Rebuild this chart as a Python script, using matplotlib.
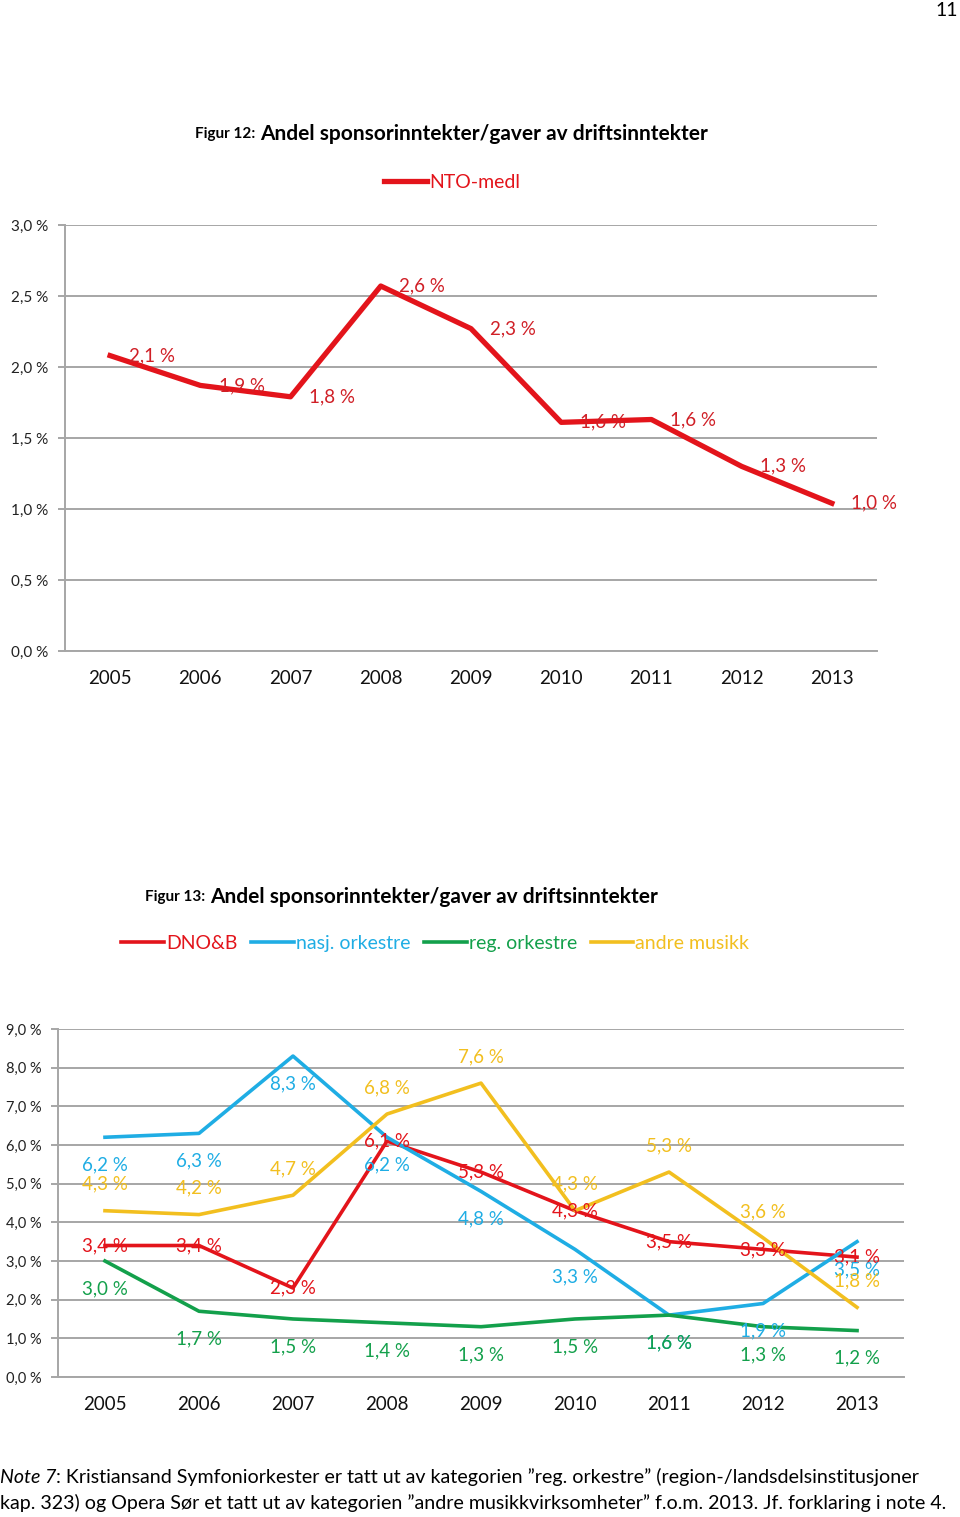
import matplotlib.pyplot as plt
from matplotlib.ticker import FixedLocator

plt.rcParams['font.family'] = ['Lato', 'DejaVu Sans']

years = ['2005', '2006', '2007', '2008', '2009', '2010', '2011', '2012', '2013']

# Figur 12
nto_medl = [2.08, 1.87, 1.79, 2.57, 2.27, 1.61, 1.63, 1.30, 1.04]

# Figur 13
dno_b = [3.4, 3.4, 2.3, 6.1, 5.3, 4.3, 3.5, 3.3, 3.1]
nasj_ork = [6.2, 6.3, 8.3, 6.2, 4.8, 3.3, 1.6, 1.9, 3.5]
reg_ork = [3.0, 1.7, 1.5, 1.4, 1.3, 1.5, 1.6, 1.3, 1.2]
andre_musikk = [4.3, 4.2, 4.7, 6.8, 7.6, 4.3, 5.3, 3.6, 1.8]

RED = '#E3141B'
BLUE = '#1FADE4'
GREEN = '#13A04B'
YELLOW = '#F2BF1F'
GRID = '#A6A6A6'


def pct(v):
    return f'{v:.1f}'.replace('.', ',') + ' %'


def style_axes(ax, ymax, step, ylab_size):
    x = range(len(years))
    ax.set_xlim(-0.5, len(years) - 0.5)
    ax.set_ylim(0, ymax)
    ticks = [i * step for i in range(int(round(ymax / step)) + 1)]
    ax.yaxis.set_major_locator(FixedLocator(ticks))
    ax.set_yticklabels([pct(t) for t in ticks], fontsize=ylab_size, color='#222222')
    ax.set_xticks(list(x))
    ax.set_xticklabels(years, fontsize=13.5, color='#111111')
    ax.grid(axis='y', color=GRID, linewidth=1.4)
    ax.set_axisbelow(True)
    for s in ['top', 'right']:
        ax.spines[s].set_visible(False)
    for s in ['left', 'bottom']:
        ax.spines[s].set_color(GRID)
        ax.spines[s].set_linewidth(1.4)
    ax.tick_params(axis='y', length=5, width=1.4, color=GRID, pad=7)
    ax.tick_params(axis='x', length=0, pad=14)


fig = plt.figure(figsize=(9.6, 15.17), dpi=100)
x = list(range(len(years)))

# ---- Figur 12 ----
ax1 = fig.add_axes([0.0677, 0.5709, 0.8458, 0.2808])
l1, = ax1.plot(x, nto_medl, color=RED, linewidth=3.8, label='NTO-medl')
for i, v in enumerate(nto_medl):
    ax1.annotate(pct(v), (i, v), xytext=(30, 0), textcoords='offset points',
                 ha='center', va='center', fontsize=13.5, color='#D01F26')
style_axes(ax1, 3.0, 0.5, 11)
ax1.legend(handles=[l1], loc='center', bbox_to_anchor=(0.477, 1.10), frameon=False,
           fontsize=14, labelcolor='linecolor', handlelength=2.2, handletextpad=0.1)

fig.text(0.203, 1 - 134 / 1517, 'Figur 12:', fontsize=11, fontweight='bold', va='center')
fig.text(0.271, 1 - 134 / 1517, 'Andel sponsorinntekter/gaver av driftsinntekter',
         fontsize=15, fontweight='bold', va='center')

# ---- Figur 13 ----
ax2 = fig.add_axes([0.0604, 0.0923, 0.8813, 0.2294])
series = [
    ('DNO&B', dno_b, RED, 0),
    ('nasj. orkestre', nasj_ork, BLUE, -20),
    ('reg. orkestre', reg_ork, GREEN, -20),
    ('andre musikk', andre_musikk, YELLOW, 19),
]
handles = []
for name, vals, col, dy in series:
    h, = ax2.plot(x, vals, color=col, linewidth=2.6, label=name)
    handles.append(h)
for name, vals, col, dy in series:
    for i, v in enumerate(vals):
        ax2.annotate(pct(v), (i, v), xytext=(0, dy), textcoords='offset points',
                     ha='center', va='center', fontsize=13.5, color=col)
style_axes(ax2, 9.0, 1.0, 10.5)
ax2.legend(handles=handles, loc='center', bbox_to_anchor=(0.446, 1.247), frameon=False,
           ncol=4, fontsize=14, labelcolor='linecolor', handlelength=2.2,
           handletextpad=0.1, columnspacing=0.7)

fig.text(0.151, 1 - 897 / 1517, 'Figur 13:', fontsize=11, fontweight='bold', va='center')
fig.text(0.219, 1 - 897 / 1517, 'Andel sponsorinntekter/gaver av driftsinntekter',
         fontsize=15, fontweight='bold', va='center')

# page number and note
fig.text(0.998, 1 - 10 / 1517, '11', fontsize=14, ha='right', va='center')
n1 = fig.text(0.0, 1 - 1483 / 1517, 'Note 7', fontsize=14.1, style='italic', va='baseline')
fig.text(0.0, 1 - 1509 / 1517,
         'kap. 323) og Opera S\u00f8r et tatt ut av kategorien \u201dandre musikkvirksomheter\u201d '
         'f.o.m. 2013. Jf. forklaring i note 4.', fontsize=14.1, va='baseline')
ax2.annotate(': Kristiansand Symfoniorkester er tatt ut av kategorien \u201dreg. orkestre\u201d '
             '(region-/landsdelsinstitusjoner', xy=(1, 0), xycoords=n1,
             fontsize=14.1, va='bottom', ha='left', annotation_clip=False)

fig.savefig('out.png', dpi=100)
